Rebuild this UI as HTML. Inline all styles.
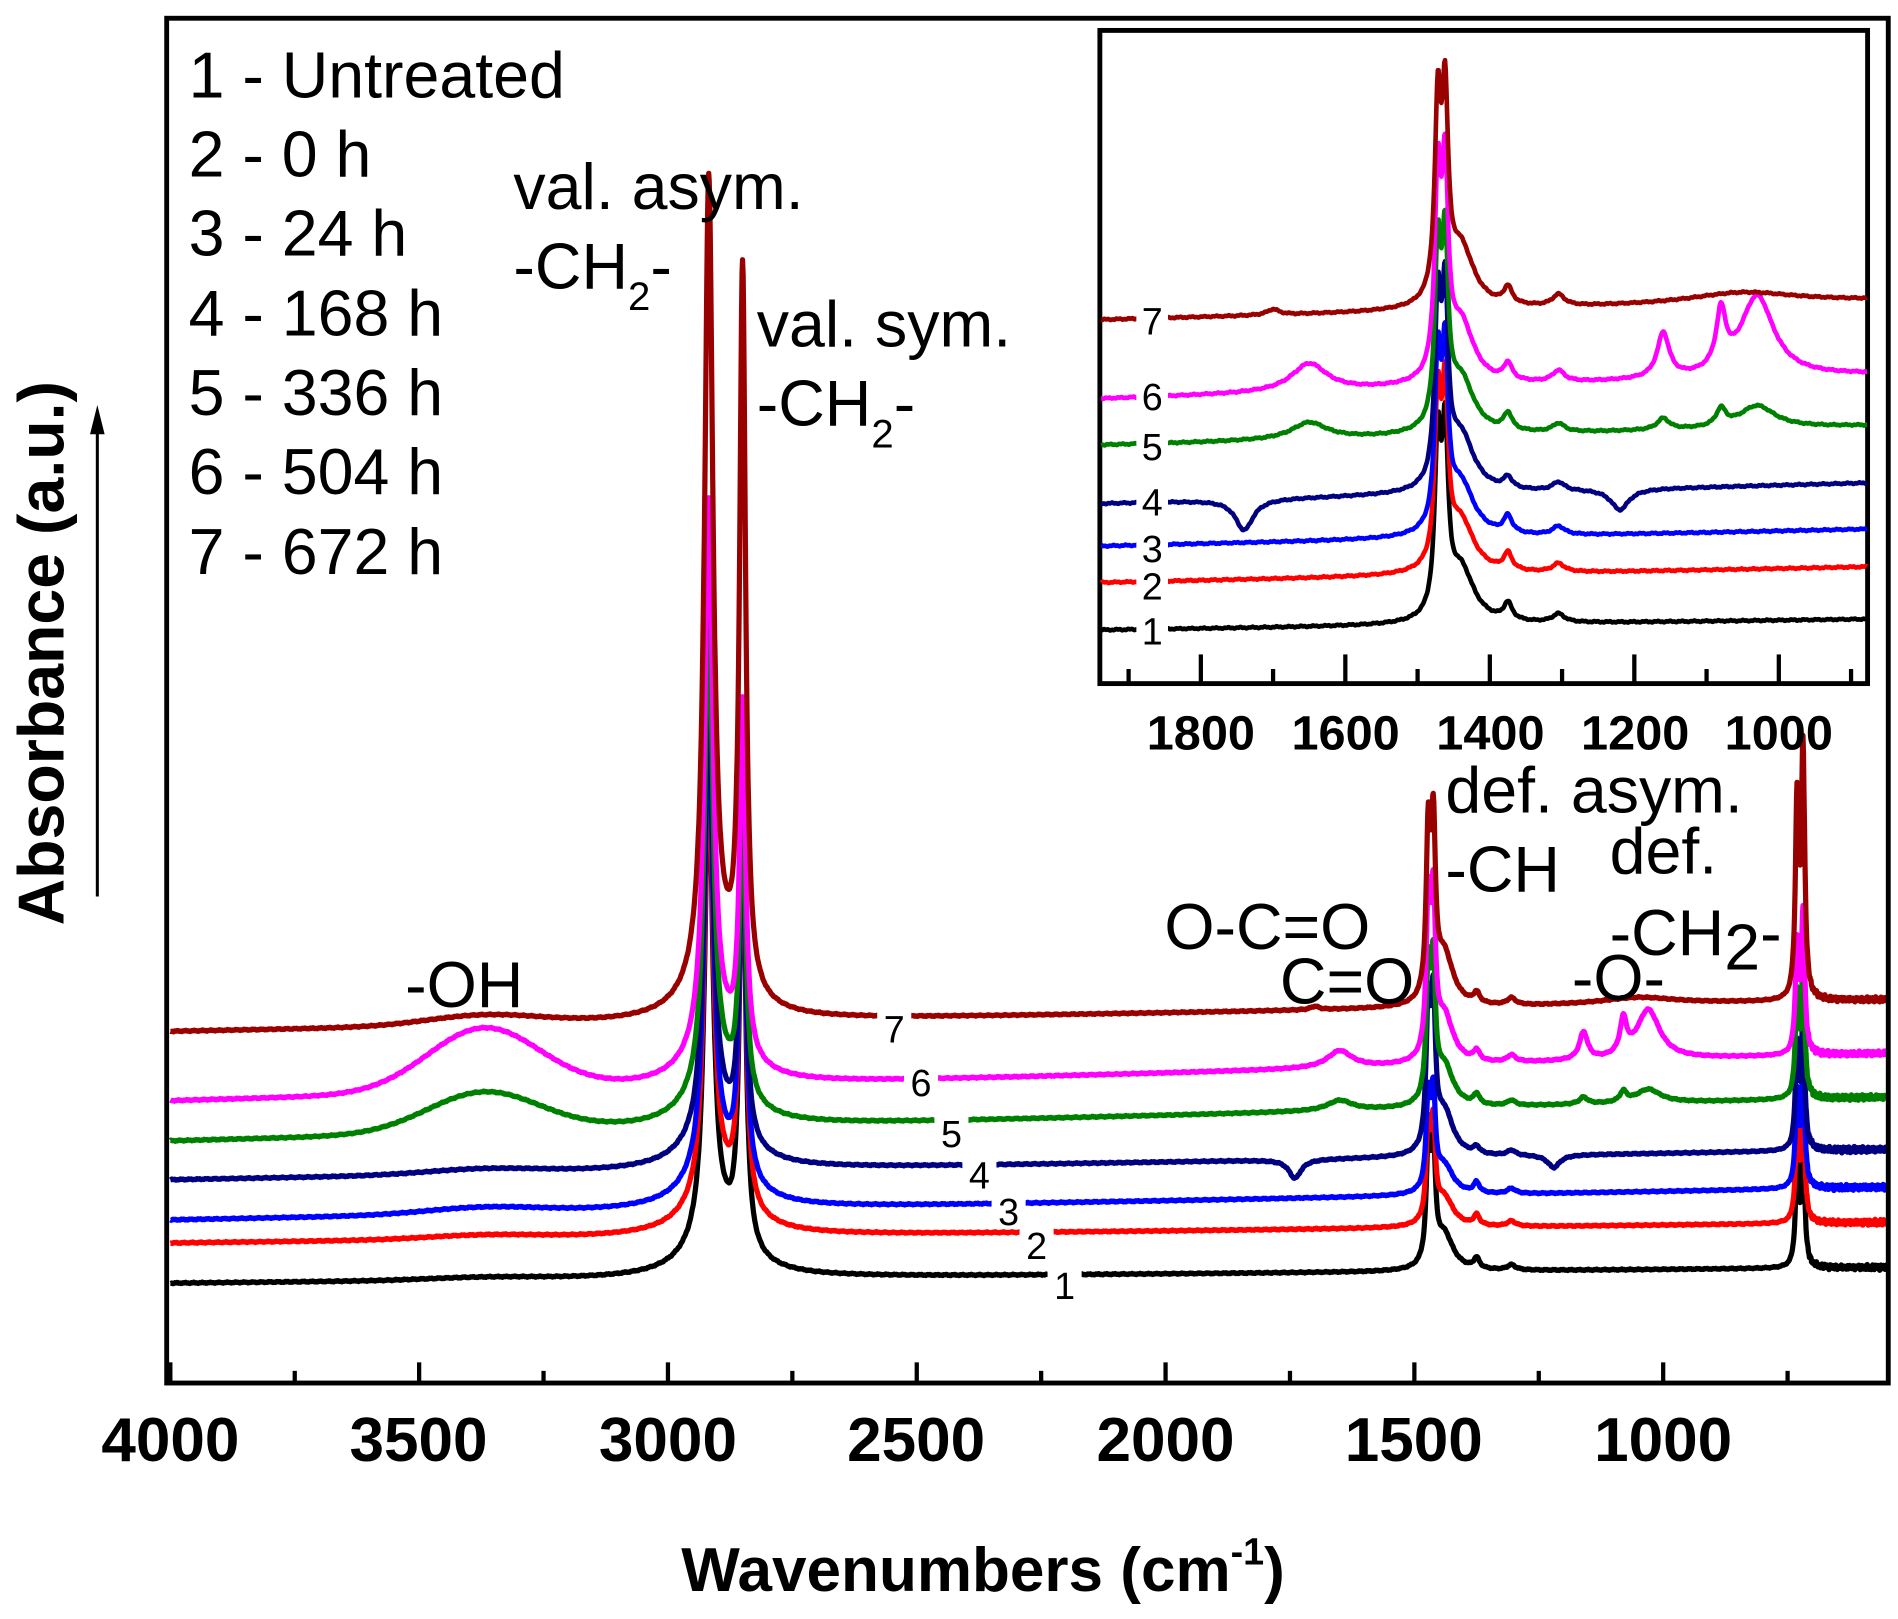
<!DOCTYPE html>
<html><head><meta charset="utf-8"><style>
html,body{margin:0;padding:0;background:#fff;}
svg{display:block;}
text{font-family:"Liberation Sans",Arial,sans-serif;}
</style></head><body>
<svg id="s" width="1898" height="1619" viewBox="0 0 1560 1331" preserveAspectRatio="none" xmlns="http://www.w3.org/2000/svg">
<rect x="0" y="0" width="1560" height="1331" fill="#fff"/>
<g id="main"></g>
<rect x="137" y="15" width="1415" height="1122" fill="none" stroke="#000" stroke-width="4"/>
<g id="mticks" stroke="#000" stroke-width="3.5"></g>
<g font-weight="bold" font-size="51" text-anchor="middle">
<text x="140" y="1201">4000</text><text x="344" y="1201">3500</text><text x="549" y="1201">3000</text>
<text x="753" y="1201">2500</text><text x="958" y="1201">2000</text><text x="1162" y="1201">1500</text><text x="1367" y="1201">1000</text>
</g>
<text x="808" y="1308" font-weight="bold" font-size="51" text-anchor="middle">Wavenumbers (cm<tspan font-size="31" dy="-22">-1</tspan><tspan dy="22">)</tspan></text>
<text transform="translate(52,537) rotate(-90)" font-weight="bold" font-size="53" text-anchor="middle">Absorbance (a.u.)</text>
<line x1="80" y1="737" x2="80" y2="350" stroke="#000" stroke-width="2.5"/>
<polygon points="80,333 74,357 86,357" fill="#000"/>
<g font-size="53">
<text x="155" y="80">1 - Untreated</text>
<text x="155" y="145">2 - 0 h</text>
<text x="155" y="210">3 - 24 h</text>
<text x="155" y="276">4 - 168 h</text>
<text x="155" y="341">5 - 336 h</text>
<text x="155" y="406">6 - 504 h</text>
<text x="155" y="472">7 - 672 h</text>
<text x="422" y="172">val. asym.</text>
<text x="422" y="237">-CH<tspan font-size="33" dy="18">2</tspan><tspan dy="-18">-</tspan></text>
<text x="622" y="285">val. sym.</text>
<text x="622" y="350">-CH<tspan font-size="33" dy="18">2</tspan><tspan dy="-18">-</tspan></text>
<text x="333" y="828">-OH</text>
<text x="957" y="780">O-C=O</text>
<text x="1052" y="825">C=O</text>
<text x="1188" y="668">def. asym.</text>
<text x="1188" y="733">-CH</text>
<text x="1323" y="718">def.</text>
<text x="1323" y="785">-CH<tspan dy="12">2</tspan><tspan dy="-12">-</tspan></text>
<text x="1292" y="822">-O-</text>
</g>
<rect x="904" y="25" width="631" height="537" fill="#fff" stroke="#000" stroke-width="4"/>
<g id="inset"></g>
<g id="iticks" stroke="#000" stroke-width="3.5"></g>
<g font-weight="bold" font-size="40" text-anchor="middle">
<text x="987" y="616">1800</text><text x="1106" y="616">1600</text><text x="1225" y="616">1400</text><text x="1344" y="616">1200</text><text x="1462" y="616">1000</text>
</g>
</svg>
<script>
var NS="http://www.w3.org/2000/svg";
function L(w,c,g){var d=(w-c)/g;return 1/(1+d*d);}
var S=[
 {c:"#990000",yL:848,yR:822,asym:699,sym:618,p14:235,p7:290,iL:263,iR:247,itop:38,oh:8,
  f:[[1700,10,4],[1050,90,8],[1375,7,12],[1305,10,8]],lab:"7",mx:735,my:846,ix:946,iy:263},
 {c:"#ff00ff",yL:905,yR:866,asym:489,sym:316,p14:215,p7:160,iL:328,iR:308,itop:100,oh:52,
  f:[[1650,30,20],[1160,10,32],[1080,8,40],[1030,28,58],[1375,7,12],[1305,10,8]],lab:"6",mx:757,my:890,ix:946,iy:325},
 {c:"#008000",yL:938,yR:902,asym:431,sym:278,p14:185,p7:150,iL:366,iR:350,itop:163,oh:33,
  f:[[1650,30,12],[1160,10,8],[1080,8,12],[1030,30,16],[1375,7,12],[1305,10,6]],lab:"5",mx:782,my:932,ix:946,iy:366},
 {c:"#000080",yL:970,yR:945,asym:406,sym:310,p14:200,p7:150,iL:414,iR:397,itop:205,oh:4,
  f:[[1740,15,-22],[1220,15,-15],[1375,7,8],[1305,10,6]],lab:"4",mx:805,my:966,ix:946,iy:412},
 {c:"#0000ff",yL:1003,yR:976,asym:417,sym:343,p14:130,p7:135,iL:449,iR:435,itop:255,oh:5,
  f:[[1375,7,12],[1305,10,6]],lab:"3",mx:829,my:996,ix:946,iy:450},
 {c:"#ff0000",yL:1022,yR:1005,asym:402,sym:362,p14:130,p7:135,iL:479,iR:466,itop:287,oh:3,
  f:[[1375,7,12],[1305,10,6]],lab:"2",mx:852,my:1024,ix:946,iy:481},
 {c:"#000000",yL:1055,yR:1042,asym:421,sym:390,p14:160,p7:140,iL:518,iR:509,itop:318,oh:2,
  f:[[1375,7,12],[1305,10,6]],lab:"1",mx:875,my:1057,ix:946,iy:518}
];
function noise(w,k){return Math.sin(w*0.37+k)*0.6+Math.sin(w*1.13+2*k)*0.5;}
function feat(s,w,sc){var v=0;for(var i=0;i<s.f.length;i++){var f=s.f[i];v+=f[2]*sc*L(w,f[0],f[1]);}return v;}
function p14(w,T){return T*(0.55*L(w,1472,5)+0.55*L(w,1462,5)+0.18*L(w,1440,22));}
function mainY(s,w,k){
 var b=s.yL+(s.yR-s.yL)*(4000-w)/3450;
 var A=s.asym-45,B=s.sym-30;
 var v=A*L(w,2918,10)+B*L(w,2850,7)+40*L(w,2900,60)+s.oh*Math.exp(-Math.pow((w-3370)/160,2));
 v+=p14(w,s.p14)+s.p7*(0.55*L(w,731,4)+0.7*L(w,719,4))+feat(s,w,0.7);
 if(w<720)v+=noise(w*3,k)*2;
 return b-v+noise(w,k)*0.5;
}
function insY(s,w,k){
 var b=s.iL+(s.iR-s.iL)*(1940-w)/1063;
 var T=(s.iL-s.itop)*1.22;
 var v=p14(w,T)+feat(s,w,1.15);
 return b-v+noise(w,k)*0.6;
}
var mx=function(w){return 140+(4000-w)*0.409;};
var ix=function(w){return 987+(1800-w)*0.5938;};
var gm=document.getElementById("main"),gi=document.getElementById("inset");
function mk(tag,attrs,parent){var e=document.createElementNS(NS,tag);for(var a in attrs)e.setAttribute(a,attrs[a]);parent.appendChild(e);return e;}
for(var k=6;k>=0;k--){
 var s=S[k],d="";
 for(var w=4000;w>=550;w-=1){var x=mx(w),y=mainY(s,w,k);d+=(w==4000?"M":"L")+x.toFixed(1)+","+y.toFixed(1);}
 mk("path",{d:d,fill:"none",stroke:s.c,"stroke-width":4.3,"stroke-linejoin":"round"},gm);
 var di="";
 for(var w=1938;w>=878;w-=1){var x=ix(w),y=insY(s,w,k);di+=(w==1938?"M":"L")+x.toFixed(1)+","+y.toFixed(1);}
 mk("path",{d:di,fill:"none",stroke:s.c,"stroke-width":3.8,"stroke-linejoin":"round"},gi);
}
for(var k=0;k<7;k++){
 var s=S[k];
 mk("rect",{x:s.mx-14,y:s.my-18,width:28,height:30,fill:"#fff"},gm);
 var t=mk("text",{x:s.mx,y:s.my+11,"font-size":31,"text-anchor":"middle"},gm);t.textContent=s.lab;
 mk("rect",{x:s.ix-12,y:s.iy-16,width:26,height:30,fill:"#fff"},gi);
 var t2=mk("text",{x:s.ix+1,y:s.iy+12,"font-size":31,"text-anchor":"middle"},gi);t2.textContent=s.lab;
}
var mt=document.getElementById("mticks");
for(var w=4000;w>=600;w-=250){var x=mx(w),maj=(w%500==0);mk("line",{x1:x,y1:1137,x2:x,y2:maj?1120:1127},mt);}
var it=document.getElementById("iticks");
for(var w=1900;w>=900;w-=100){var x=ix(w),maj=(w%200==0);mk("line",{x1:x,y1:562,x2:x,y2:maj?538:550},it);}
</script>
</body></html>
